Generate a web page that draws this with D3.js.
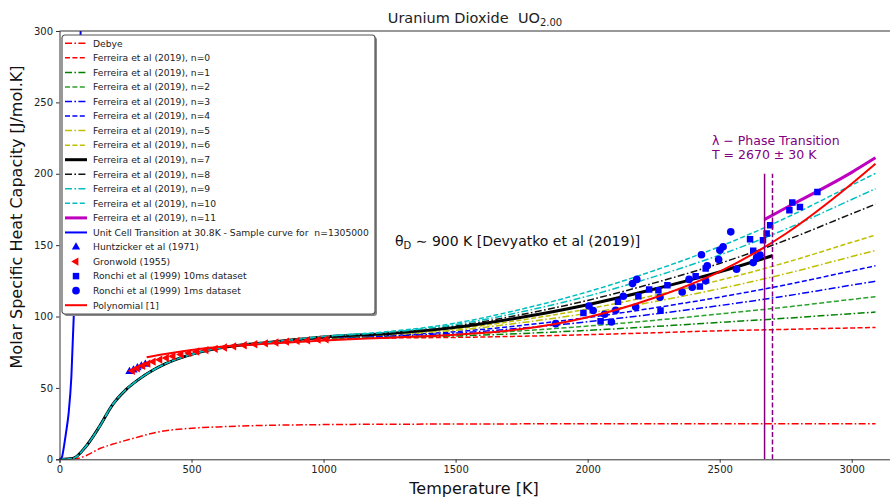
<!DOCTYPE html>
<html>
<head>
<meta charset="utf-8">
<script src="https://cdn.jsdelivr.net/npm/d3@7"></script>
<style>
  body { margin: 0; background: #fff; }
  svg { font-family: "DejaVu Sans", sans-serif; }
</style>
</head>
<body>
<svg width="890" height="498"></svg>
<script>
// heat capacity of UO2 - curves

// shared low temperature part of all Ferreira curves
var tLow = [0, 50, 100, 150, 200, 250, 300, 350, 400, 500, 600, 800];
var cpLow = [0, 0.6, 9, 22.5, 38, 48.5, 56, 62, 66.8, 73.5, 77.8, 82];

// high temperature part, one array per n
var tHigh = [1000, 1250, 1500, 1750, 2000, 2250, 2500, 2750, 3000, 3090];
var ferreira0 = [84.6, 85.0, 85.4, 86.2, 87.3, 88.6, 90.0, 91.0, 92.0, 92.3];
var ferreira1 = [84.8, 85.5, 86.4, 88.1, 90.3, 93.0, 95.9, 98.8, 102.0, 103.1];
var ferreira2 = [84.9, 85.9, 87.4, 90.0, 93.3, 97.3, 101.8, 106.6, 112.0, 113.9];
var ferreira3 = [85.1, 86.4, 88.4, 91.9, 96.3, 101.7, 107.7, 114.4, 122.0, 124.7];
var ferreira4 = [85.2, 86.8, 89.4, 93.8, 99.3, 106.0, 113.6, 122.2, 132.0, 135.5];
var ferreira5 = [85.4, 87.3, 90.4, 95.7, 102.3, 110.4, 119.5, 130.0, 142.0, 146.3];
var ferreira6 = [85.5, 87.7, 91.4, 97.6, 105.3, 114.7, 125.4, 137.8, 152.0, 157.1];
var tHigh7 = [1000, 1250, 1500, 1750, 2000, 2250, 2500, 2700];
var ferreira7 = [85.7, 88.2, 92.4, 99.5, 108.3, 119.1, 131.3, 142.6];
var ferreira8 = [85.8, 88.6, 93.4, 101.4, 111.3, 123.4, 137.2, 153.4, 172.0, 178.7];
var ferreira9 = [86.0, 89.1, 94.4, 103.3, 114.3, 127.8, 143.1, 161.2, 182.0, 189.5];
var ferreira10 = [86.1, 89.5, 95.4, 105.2, 117.3, 132.1, 149.0, 169.0, 192.0, 200.3];
var tHigh11 = [2670, 2750, 3000, 3090];
var ferreira11 = [168, 176, 201, 211.2];

var tDebye = [0, 60, 100, 155, 200, 280, 370, 480, 600, 790, 1000, 1300, 1700, 2200, 3090];
var cpDebye = [0, 0.3, 2.5, 7.7, 10.5, 14.7, 19, 21.5, 22.7, 23.8, 24.3, 24.6, 24.8, 24.9, 24.95];

var tCell = [0, 5, 10, 16, 25, 35, 45, 55, 65, 72, 80, 84];
var cpCell = [0, 0.5, 2, 8, 19, 33, 58, 105, 170, 225, 300, 330];

var tPoly = [330, 400, 500, 600, 750, 1000, 1250, 1500, 1750, 2000, 2250, 2500, 2750, 3000, 3090];
var cpPoly = [71.5, 73.8, 76.5, 78.6, 80.5, 83.2, 85.2, 87.3, 91.2, 99.5, 113, 131.5, 158, 193, 207];

var huntzicker = [[265, 61.5], [280, 62.5], [295, 64], [310, 65.3], [325, 66.5]];
var gronwold = [[276, 62], [295, 63.8], [315, 65.5], [335, 67], [355, 68.4], [380, 69.8], [405, 71],
  [430, 72.2], [460, 73.4], [490, 74.5], [520, 75.5], [555, 76.5], [590, 77.4], [625, 78.3],
  [660, 79.1], [700, 79.9], [740, 80.6], [780, 81.2], [820, 81.8], [860, 82.4], [900, 82.9],
  [940, 83.4], [980, 83.8], [1010, 84.1]];
var ronchi10 = [[1984, 102.5], [2049, 96.7], [2115, 110.3], [2192, 114.2], [2233, 119], [2268, 118.4],
  [2276, 104.2], [2302, 121.9], [2409, 128.3], [2425, 121], [2447, 133.6], [2615, 154.2], [2627, 146],
  [2664, 153.5], [2678, 158.2], [2691, 164], [2764, 174.5], [2775, 179.9], [2804, 176.8], [2870, 187.3]];
var ronchi1 = [[1879, 95], [2005, 107.4], [2021, 104.2], [2064, 101.6], [2090, 96.2], [2106, 104.4],
  [2135, 114.2], [2170, 123.1], [2186, 126], [2182, 106.7], [2274, 113.5], [2358, 117.2], [2384, 126],
  [2396, 120.5], [2431, 143.3], [2447, 125], [2453, 135.5], [2496, 139.9], [2501, 146.5], [2513, 148.8],
  [2542, 159.3], [2564, 133.1], [2627, 137.8], [2640, 141.3], [2653, 143]];

var transitionT = [2670, 2700];
var xTicks = [0, 500, 1000, 1500, 2000, 2500, 3000];
var yTicks = [0, 50, 100, 150, 200, 250, 300];

var svg = d3.select('svg');
var x = d3.scaleLinear().domain([0, 3145]).range([59.5, 890]);
var y = d3.scaleLinear().domain([0, 300]).range([459.3, 31]);

var DASH = '5,2.4';
var DASHDOT = '7,2.4,1.6,2.4';

var zip = function(ts, vs) { return ts.map(function(t, i) { return [t, vs[i]]; }); };
var withLow = function(vs) { return zip(tLow, cpLow).concat(zip(tHigh, vs)); };

var series = [
  { label: 'Debye', color: '#ff0000', dash: DASHDOT, width: 1.5, pts: zip(tDebye, cpDebye) },
  { label: 'Ferreira et al (2019), n=0', color: '#ff0000', dash: DASH, width: 1.5, pts: withLow(ferreira0) },
  { label: 'Ferreira et al (2019), n=1', color: '#008000', dash: DASHDOT, width: 1.5, pts: withLow(ferreira1) },
  { label: 'Ferreira et al (2019), n=2', color: '#2ca02c', dash: DASH, width: 1.5, pts: withLow(ferreira2) },
  { label: 'Ferreira et al (2019), n=3', color: '#0000ff', dash: DASHDOT, width: 1.5, pts: withLow(ferreira3) },
  { label: 'Ferreira et al (2019), n=4', color: '#0000ff', dash: DASH, width: 1.5, pts: withLow(ferreira4) },
  { label: 'Ferreira et al (2019), n=5', color: '#bfbf00', dash: DASHDOT, width: 1.5, pts: withLow(ferreira5) },
  { label: 'Ferreira et al (2019), n=6', color: '#bfbf00', dash: DASH, width: 1.5, pts: withLow(ferreira6) },
  { label: 'Ferreira et al (2019), n=7', color: '#000000', dash: null, width: 3, pts: zip(tLow, cpLow).concat(zip(tHigh7, ferreira7)) },
  { label: 'Ferreira et al (2019), n=8', color: '#111111', dash: DASHDOT, width: 1.5, pts: withLow(ferreira8) },
  { label: 'Ferreira et al (2019), n=9', color: '#00bfbf', dash: DASHDOT, width: 1.5, pts: withLow(ferreira9) },
  { label: 'Ferreira et al (2019), n=10', color: '#00bfbf', dash: DASH, width: 1.5, pts: withLow(ferreira10) },
  { label: 'Ferreira et al (2019), n=11', color: '#bf00bf', dash: null, width: 3, pts: zip(tHigh11, ferreira11) },
  { label: 'Unit Cell Transition at 30.8K - Sample curve for\u00a0\u00a0n=1305000', color: '#0000ff', dash: null, width: 2, pts: zip(tCell, cpCell) }
];
var scatters = [
  { label: 'Huntzicker et al (1971)', color: '#0000ff', symbol: d3.symbolTriangle, size: 30, rot: 0, pts: huntzicker },
  { label: 'Gronwold (1955)', color: '#ff0000', symbol: d3.symbolTriangle, size: 30, rot: -90, pts: gronwold },
  { label: 'Ronchi et al (1999) 10ms dataset', color: '#0000ff', symbol: d3.symbolSquare, size: 42, rot: 0, pts: ronchi10 },
  { label: 'Ronchi et al (1999) 1ms dataset', color: '#0000ff', symbol: d3.symbolCircle, size: 46, rot: 0, pts: ronchi1 }
];
var poly = { label: 'Polynomial [1]', color: '#ff0000', dash: null, width: 2, pts: zip(tPoly, cpPoly) };

svg.append('clipPath').attr('id', 'plot')
  .append('rect').attr('x', 59.5).attr('y', 31).attr('width', 831).attr('height', 428.3);

var line = d3.line().x(d => x(d[0])).y(d => y(d[1])).curve(d3.curveMonotoneX);
var plot = svg.append('g').attr('clip-path', 'url(#plot)');

series.forEach(function(s) {
  plot.append('path')
    .attr('d', line(s.pts))
    .attr('fill', 'none')
    .attr('stroke', s.color)
    .attr('stroke-width', s.width)
    .attr('stroke-dasharray', s.dash);
});

scatters.forEach(function(s) {
  plot.append('g').selectAll('path')
    .data(s.pts)
    .enter()
    .append('path')
      .attr('d', d3.symbol().type(s.symbol).size(s.size))
      .attr('transform', d => `translate(${x(d[0])},${y(d[1])}) rotate(${s.rot})`)
      .attr('fill', s.color);
});

plot.append('path')
  .attr('d', line(poly.pts))
  .attr('fill', 'none')
  .attr('stroke', poly.color)
  .attr('stroke-width', poly.width);

// phase transition lines
plot.selectAll('.trans')
  .data(transitionT)
  .enter()
  .append('line')
    .attr('x1', d => x(d)).attr('x2', d => x(d))
    .attr('y1', y(0)).attr('y2', y(200))
    .attr('stroke', '#800080')
    .attr('stroke-width', 1.5)
    .attr('stroke-dasharray', (d, i) => i ? '5,2.4' : null);

// axes
var xAxis = svg.append('g')
  .attr('transform', `translate(0,${y(0)})`)
  .call(d3.axisBottom(x).tickValues(xTicks).tickSize(3.5).tickPadding(3).tickFormat(d3.format('d')));
var yAxis = svg.append('g')
  .attr('transform', `translate(${x(0)},0)`)
  .call(d3.axisLeft(y).tickValues(yTicks).tickSize(3.5).tickPadding(3).tickFormat(d3.format('d')));
[xAxis, yAxis].forEach(function(a) {
  a.selectAll('text').attr('font-size', 10).attr('font-family', 'DejaVu Sans').attr('fill', '#222');
  a.select('.domain').attr('stroke', '#333');
  a.selectAll('.tick line').attr('stroke', '#333');
});
svg.append('line')
  .attr('x1', x(0)).attr('x2', 890).attr('y1', 31).attr('y2', 31)
  .attr('stroke', '#333');

// titles
var title = svg.append('text')
  .attr('x', 475).attr('y', 23)
  .attr('text-anchor', 'middle')
  .attr('font-size', 14.5)
  .attr('fill', '#222');
title.append('tspan').text('Uranium Dioxide\u00a0\u00a0UO');
title.append('tspan').text('2.00').attr('font-size', 10).attr('dy', 3);

svg.append('text')
  .attr('x', 474).attr('y', 494)
  .attr('text-anchor', 'middle')
  .attr('font-size', 16)
  .attr('fill', '#111')
  .text('Temperature [K]');

svg.append('text')
  .attr('transform', 'translate(22,217) rotate(-90)')
  .attr('text-anchor', 'middle')
  .attr('font-size', 16)
  .attr('fill', '#111')
  .text('Molar Specific Heat Capacity [J/mol.K]');

var theta = svg.append('text')
  .attr('x', 395).attr('y', 246)
  .attr('font-size', 14)
  .attr('fill', '#111');
theta.append('tspan').text('θ');
theta.append('tspan').text('D').attr('font-size', 10).attr('dy', 3);
theta.append('tspan').text(' ∼ 900 K [Devyatko et al (2019)]').attr('dy', -3);

svg.append('text')
  .attr('x', 712).attr('y', 145)
  .attr('font-size', 12.5)
  .attr('fill', '#800080')
  .text('λ − Phase Transition');
svg.append('text')
  .attr('x', 712).attr('y', 159)
  .attr('font-size', 12.5)
  .attr('fill', '#800080')
  .text('T = 2670 ± 30 K');

// legend
var legendItems = series.concat(scatters).concat([poly]);
var lg = svg.append('g').attr('transform', 'translate(62,35)');
lg.append('rect')
  .attr('x', 2).attr('y', 2).attr('width', 313).attr('height', 279).attr('rx', 3)
  .attr('fill', '#888');
lg.append('rect')
  .attr('width', 313).attr('height', 279).attr('rx', 3)
  .attr('fill', '#fff').attr('stroke', '#555').attr('stroke-width', 1.2);

var rows = lg.selectAll('.row')
  .data(legendItems)
  .enter()
  .append('g')
    .attr('transform', (d, i) => `translate(0,${8.3 + i * 14.55})`);
rows.filter(d => !d.symbol)
  .append('line')
    .attr('x1', 3).attr('x2', 25)
    .attr('stroke', d => d.color)
    .attr('stroke-width', d => d.width)
    .attr('stroke-dasharray', d => d.dash);
rows.filter(d => d.symbol)
  .append('path')
    .attr('d', d => d3.symbol().type(d.symbol).size(d.size)())
    .attr('transform', d => `translate(14,0) rotate(${d.rot})`)
    .attr('fill', d => d.color);
rows.append('text')
  .attr('x', 31).attr('y', 3.3)
  .attr('font-size', 9.2)
  .attr('fill', '#222')
  .text(d => d.label);
</script>
</body>
</html>
